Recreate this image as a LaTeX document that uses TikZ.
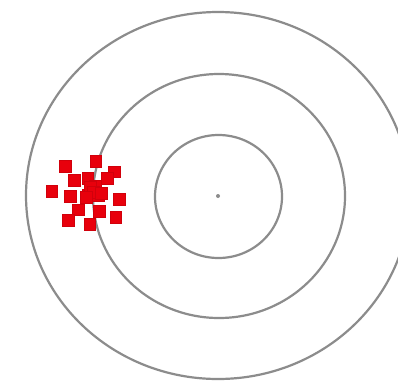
\documentclass[tikz,border=0pt]{standalone}
\begin{document}
\begin{tikzpicture}[x=1pt,y=-1pt,
  ring/.style={draw=ringgray,line width=2.2pt},
  hit/.style={fill=hitred,draw=hitred!90!black,line width=0.3pt,minimum size=11.5pt,inner sep=0pt,outer sep=0pt,rectangle}]
\definecolor{ringgray}{RGB}{140,140,140}
\definecolor{hitred}{RGB}{232,0,12}
\useasboundingbox (0,0) rectangle (398,381);
\fill[white] (0,0) rectangle (398,381);
\draw[ring] (218,195.5) ellipse [x radius=192, y radius=183.5];
\draw[ring] (219,196) ellipse [x radius=126, y radius=122];
\draw[ring] (218.5,196.5) ellipse [x radius=63.5, y radius=61.5];
\fill[ringgray] (218,196) circle (2);
\foreach \n/\x/\y in {a/65/166, b/95.7/161, c/114/171.7, d/74/180.3, e/87.7/178.3, f/107/178, g/95/186, h/51.5/191, i/70/196, j/88.3/195, k/98.3/195, l/119.3/199.3, m/78/209.6, n/99.3/211, o/68.3/220, p/89.6/224, q/115.7/217, r/90/187, s/93/192, t/101/193, u/86/197}
  \node[hit] (\n) at (\x,\y) {};
\end{tikzpicture}
\end{document}
